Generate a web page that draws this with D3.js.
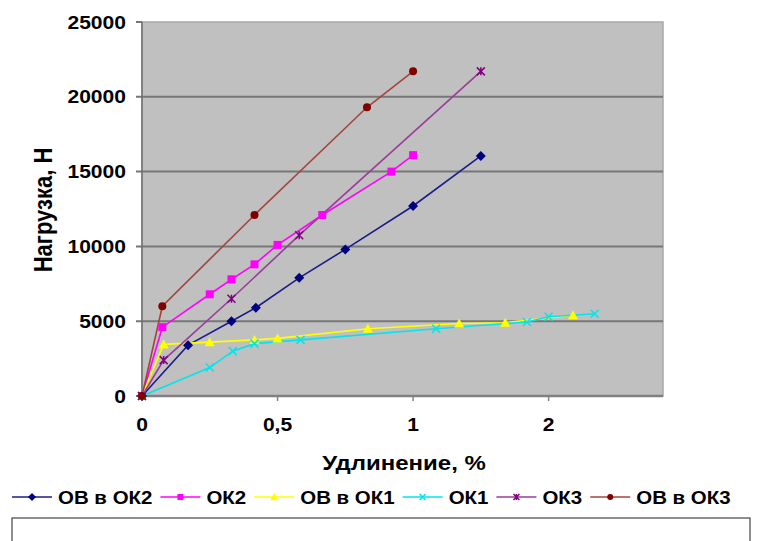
<!DOCTYPE html>
<html>
<head>
<meta charset="utf-8">
<style>
    body { margin: 0; background: #fff; }
    svg text { font-family: "Liberation Sans", Arial, sans-serif; font-weight: bold; fill: #000; }
</style>
</head>
<body>
<script src="https://d3js.org/d3.v7.min.js"></script>
<script>
    // axis ticks
    const xTicks = [0, 0.5, 1, 1.5];
    const xTickLabels = ["0", "0,5", "1", "2"];
    const yTicks = [0, 5000, 10000, 15000, 20000, 25000];

    const seriesNames = ["ОВ в ОК2", "ОК2", "ОВ в ОК1", "ОК1", "ОК3", "ОВ в ОК3"];

    // values
    const ovOk2X = [0, 0.17, 0.33, 0.42, 0.58, 0.75, 1.0, 1.25];
    const ovOk2Y = [0, 3400, 5000, 5900, 7900, 9800, 12700, 16050];
    const ok2X = [0, 0.075, 0.25, 0.33, 0.415, 0.5, 0.665, 0.92, 1.0];
    const ok2Y = [0, 4600, 6800, 7800, 8800, 10100, 12100, 15000, 16100];
    const ovOk1X = [0, 0.08, 0.25, 0.415, 0.5, 0.833, 1.17, 1.34, 1.59];
    const ovOk1Y = [0, 3450, 3600, 3750, 3850, 4500, 4850, 4900, 5400];
    const ok1X = [0, 0.25, 0.335, 0.415, 0.585, 1.085, 1.42, 1.5, 1.67];
    const ok1Y = [0, 1900, 3000, 3500, 3750, 4500, 4950, 5300, 5500];
    const ok3X = [0, 0.08, 0.33, 0.58, 1.25];
    const ok3Y = [0, 2400, 6500, 10750, 21700];
    const ovOk3X = [0, 0.075, 0.415, 0.83, 1.0];
    const ovOk3Y = [0, 6000, 12100, 19300, 21700];

    const W = 762, H = 541;
    const stretch = 1.17;

    const svg = d3.select("body").append("svg")
        .attr("width", W)
        .attr("height", H);

    const x = d3.scaleLinear().domain([0, 1.922]).range([142, 663]);
    const y = d3.scaleLinear().domain([0, 25000]).range([396, 22]);

    const zip = (xs, ys) => xs.map((v, i) => [v, ys[i]]);

    // marker paths
    function markerPath(kind, s) {
        const h = s / 2;
        if (kind == "diamond") return `M0,${-h}L${h},0L0,${h}L${-h},0Z`;
        if (kind == "square") return `M${-h},${-h}H${h}V${h}H${-h}Z`;
        if (kind == "triangle") return `M0,${-h}L${h},${h * 0.8}L${-h},${h * 0.8}Z`;
        if (kind == "x") return `M${-h},${-h}L${h},${h}M${-h},${h}L${h},${-h}`;
        if (kind == "star") return `M${-h},${-h}L${h},${h}M${-h},${h}L${h},${-h}M0,${-h}V${h}`;
        return "";
    }

    const series = [
        { name: seriesNames[0], pts: zip(ovOk2X, ovOk2Y), line: "#1c1c8a", mark: "#000080", kind: "diamond", size: 10 },
        { name: seriesNames[1], pts: zip(ok2X, ok2Y), line: "#ff00ff", mark: "#ff00ff", kind: "square", size: 8 },
        { name: seriesNames[2], pts: zip(ovOk1X, ovOk1Y), line: "#ffff00", mark: "#ffff00", kind: "triangle", size: 10 },
        { name: seriesNames[3], pts: zip(ok1X, ok1Y), line: "#00e5ee", mark: "#00e5ee", kind: "x", size: 8 },
        { name: seriesNames[4], pts: zip(ok3X, ok3Y), line: "#9b3c9b", mark: "#800080", kind: "star", size: 8 },
        { name: seriesNames[5], pts: zip(ovOk3X, ovOk3Y), line: "#a5443c", mark: "#800000", kind: "circle", size: 8 }
    ];

    function drawMarker(g, s, cx, cy) {
        if (s.kind == "circle") {
            g.append("circle").attr("cx", cx).attr("cy", cy).attr("r", s.size / 2).attr("fill", s.mark);
        } else if (s.kind == "x" || s.kind == "star") {
            g.append("path").attr("d", markerPath(s.kind, s.size))
                .attr("transform", `translate(${cx},${cy})`)
                .attr("fill", "none").attr("stroke", s.mark).attr("stroke-width", 1.5);
        } else {
            g.append("path").attr("d", markerPath(s.kind, s.size))
                .attr("transform", `translate(${cx},${cy})`)
                .attr("fill", s.mark);
        }
    }

    // plot area
    svg.append("rect")
        .attr("x", x(0)).attr("y", y(25000))
        .attr("width", x(1.922) - x(0)).attr("height", y(0) - y(25000))
        .attr("fill", "#c0c0c0")
        .attr("stroke", "#a8a8a8")
        .attr("stroke-width", 1.5);

    // gridlines
    svg.append("g").selectAll("line")
        .data(yTicks.filter(d => d > 0 && d < 25000))
        .enter().append("line")
        .attr("x1", x(0) - 6).attr("x2", x(1.922))
        .attr("y1", d => y(d)).attr("y2", d => y(d))
        .attr("stroke", "#777").attr("stroke-width", 2);

    // y ticks at ends
    svg.append("g").selectAll("line")
        .data([0, 25000])
        .enter().append("line")
        .attr("x1", x(0) - 6).attr("x2", x(0))
        .attr("y1", d => y(d)).attr("y2", d => y(d))
        .attr("stroke", "#777").attr("stroke-width", 2);

    // axes lines
    svg.append("line")
        .attr("x1", x(0)).attr("x2", x(1.922))
        .attr("y1", y(0)).attr("y2", y(0))
        .attr("stroke", "#808080").attr("stroke-width", 2.5);
    svg.append("line")
        .attr("x1", x(0)).attr("x2", x(0))
        .attr("y1", y(0)).attr("y2", y(25000))
        .attr("stroke", "#707070").attr("stroke-width", 1.5);

    // x ticks
    svg.append("g").selectAll("line")
        .data(xTicks)
        .enter().append("line")
        .attr("x1", d => x(d)).attr("x2", d => x(d))
        .attr("y1", y(0)).attr("y2", y(0) + 5)
        .attr("stroke", "#808080").attr("stroke-width", 1.5);

    // tick labels
    svg.append("g").selectAll("text")
        .data(yTicks)
        .enter().append("text")
        .attr("transform", d => `translate(126,${y(d) + 6.5}) scale(${stretch},1)`)
        .attr("text-anchor", "end")
        .style("font-size", "18px")
        .text(d => d);

    svg.append("g").selectAll("text")
        .data(xTicks)
        .enter().append("text")
        .attr("transform", d => `translate(${x(d)},${431}) scale(${stretch},1)`)
        .attr("text-anchor", "middle")
        .style("font-size", "18px")
        .text((d, i) => xTickLabels[i]);

    // axis titles
    svg.append("text")
        .attr("transform", `translate(404,470) scale(${stretch},1)`)
        .attr("text-anchor", "middle")
        .style("font-size", "20.5px")
        .text("Удлинение, %");

    svg.append("text")
        .attr("transform", `translate(52,210) rotate(-90) scale(1,${stretch})`)
        .attr("text-anchor", "middle")
        .style("font-size", "22px")
        .text("Нагрузка, Н");

    // series
    const line = d3.line().x(d => x(d[0])).y(d => y(d[1]));
    const plot = svg.append("g");
    series.forEach(s => {
        plot.append("path")
            .attr("d", line(s.pts))
            .attr("fill", "none")
            .attr("stroke", s.line)
            .attr("stroke-width", 1.6);
    });
    series.forEach(s => {
        const g = plot.append("g");
        s.pts.forEach(p => drawMarker(g, s, x(p[0]), y(p[1])));
    });

    // legend
    const legend = svg.append("g").attr("id", "legend");
    let lx = 12;
    const ly = 497;
    series.forEach(s => {
        legend.append("line")
            .attr("x1", lx).attr("x2", lx + 40)
            .attr("y1", ly).attr("y2", ly)
            .attr("stroke", s.line).attr("stroke-width", 1.6);
        const mg = legend.append("g");
        drawMarker(mg, Object.assign({}, s, { size: s.size - 2 }), lx + 20, ly);
        const t = legend.append("text")
            .attr("transform", `translate(${lx + 46},${ly + 6.5}) scale(${stretch},1)`)
            .style("font-size", "17.5px")
            .text(s.name);
        lx += 46 + t.node().getComputedTextLength() * stretch + 8;
    });

    // empty box under legend
    svg.append("rect")
        .attr("x", 12).attr("y", 518)
        .attr("width", 738).attr("height", 40)
        .attr("fill", "#fff")
        .attr("stroke", "#444")
        .attr("stroke-width", 1.2);
</script>
</body>
</html>
